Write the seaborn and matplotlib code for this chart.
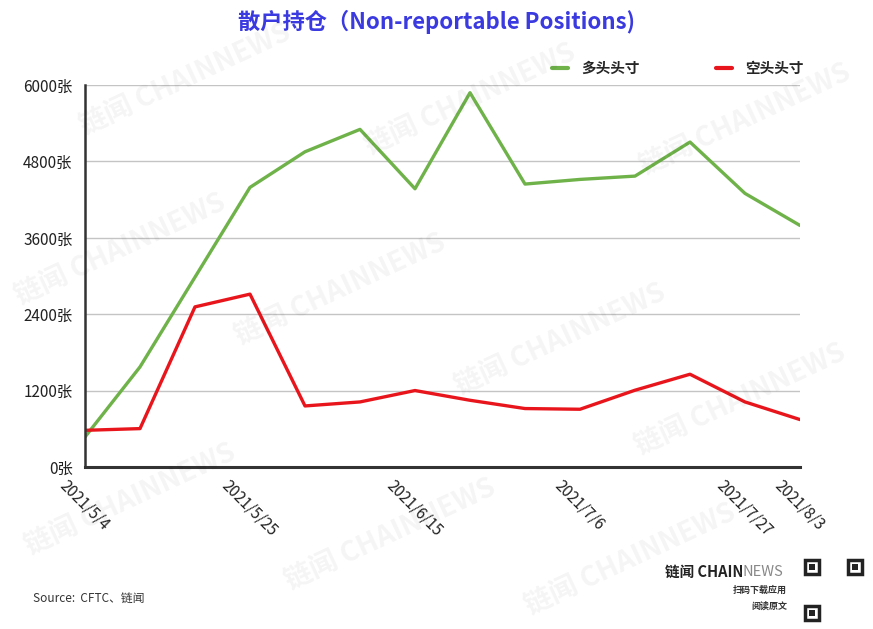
import seaborn as sns
import matplotlib.pyplot as plt
from matplotlib.patches import Rectangle
import pandas as pd

dates = ["2021/5/4", "2021/5/11", "2021/5/18", "2021/5/25", "2021/6/1", "2021/6/8",
         "2021/6/15", "2021/6/22", "2021/6/29", "2021/7/6", "2021/7/13", "2021/7/20",
         "2021/7/27", "2021/8/3"]
long_pos = [472, 1572, 2982, 4392, 4951, 5303, 4370, 5879, 4444, 4517, 4569, 5104, 4297, 3794]
short_pos = [576, 603, 2515, 2715, 959, 1022, 1201, 1048, 918, 907, 1206, 1457, 1022, 745]
tick_dates = ["2021/5/4", "2021/5/25", "2021/6/15", "2021/7/6", "2021/7/27", "2021/8/3"]
y_ticks = [0, 1200, 2400, 3600, 4800, 6000]
series_names = ["多头头寸", "空头头寸"]
colors = ["#6fb24a", "#e8161c"]

sns.set_theme(style="white")
plt.rcParams['font.family'] = ['Noto Sans CJK SC', 'DejaVu Sans']

df = pd.DataFrame({
    "date": pd.to_datetime(dates * 2, format="%Y/%m/%d"),
    "value": long_pos + short_pos,
    "series": [series_names[0]] * len(dates) + [series_names[1]] * len(dates),
})

W, H = 873, 629
fig = plt.figure(figsize=(W / 100, H / 100), dpi=100)
ax = fig.add_axes([85 / W, 1 - 467 / H, 715 / W, 382 / H])

sns.lineplot(data=df, x="date", y="value", hue="series", palette=colors,
             linewidth=2.4, ax=ax)

ax.set_xlim(df["date"].min(), df["date"].max())
ax.set_ylim(0, 6000)
ax.set_yticks(y_ticks)
ax.set_yticklabels([f"{v}张" for v in y_ticks], fontsize=11, fontweight="medium", color="#222222")
ax.yaxis.grid(True, color="#c4c4c4", linewidth=1)
ax.set_axisbelow(True)
ax.set_xticks(pd.to_datetime(tick_dates, format="%Y/%m/%d"))
ax.set_xticklabels(tick_dates, rotation=-45, ha="center", va="top",
                   fontsize=11, fontweight="medium", color="#222222")
ax.tick_params(axis="both", length=0, pad=7)
ax.tick_params(axis="y", pad=9)
ax.set_xlabel("")
ax.set_ylabel("")
for s in ["top", "right"]:
    ax.spines[s].set_visible(False)
ax.spines["left"].set_color("#333333")
ax.spines["left"].set_linewidth(1.8)
ax.spines["bottom"].set_color("#333333")
ax.spines["bottom"].set_linewidth(2.2)

leg = ax.legend(ncol=2, loc="center", bbox_to_anchor=(678 / W, 1 - 68 / H),
                bbox_transform=fig.transFigure, frameon=False, handlelength=1.1,
                handletextpad=0.9, columnspacing=5.2,
                prop={"size": 10.5, "weight": "bold"})
for line in leg.get_lines():
    line.set_linewidth(3)

fig.text(437 / W, 1 - 22 / H, "散户持仓（Non-reportable Positions)", ha="center", va="center",
         fontsize=16, fontweight="bold", color="#3a3ae0")

# watermarks
for cx, cy in [(185, 80), (470, 100), (745, 120), (120, 250), (340, 290), (560, 340),
               (740, 400), (130, 500), (390, 535), (630, 560)]:
    fig.text(cx / W, 1 - cy / H, "链闻 CHAINNEWS", ha="center", va="center", rotation=25,
             fontsize=20, fontweight="bold", color="#000000", alpha=0.045)

fig.text(33 / W, 1 - 598 / H, "Source:  CFTC、链闻", ha="left", va="center",
         fontsize=8.5, color="#333333")
fig.text(743 / W, 1 - 572 / H, "链闻 CHAIN", ha="right", va="center",
         fontsize=10.5, fontweight="bold", color="#222222")
fig.text(743 / W, 1 - 572 / H, "NEWS", ha="left", va="center",
         fontsize=10.5, color="#888888")
fig.text(787 / W, 1 - 590 / H, "扫码下载应用", ha="right", va="center",
         fontsize=6.5, fontweight="bold", color="#333333")
fig.text(787 / W, 1 - 606 / H, "阅读原文", ha="right", va="center",
         fontsize=6.5, fontweight="bold", color="#333333")

# QR code placeholder finder squares
for qx, qy in [(805, 560), (848, 560), (805, 606)]:
    fig.patches.append(Rectangle((qx / W, 1 - (qy + 14) / H), 14 / W, 14 / H,
                                 transform=fig.transFigure, facecolor="white",
                                 edgecolor="#222222", linewidth=2.5))
    fig.patches.append(Rectangle(((qx + 4) / W, 1 - (qy + 10) / H), 6 / W, 6 / H,
                                 transform=fig.transFigure, facecolor="#222222",
                                 edgecolor="none"))

fig.savefig("out.png", dpi=100)
